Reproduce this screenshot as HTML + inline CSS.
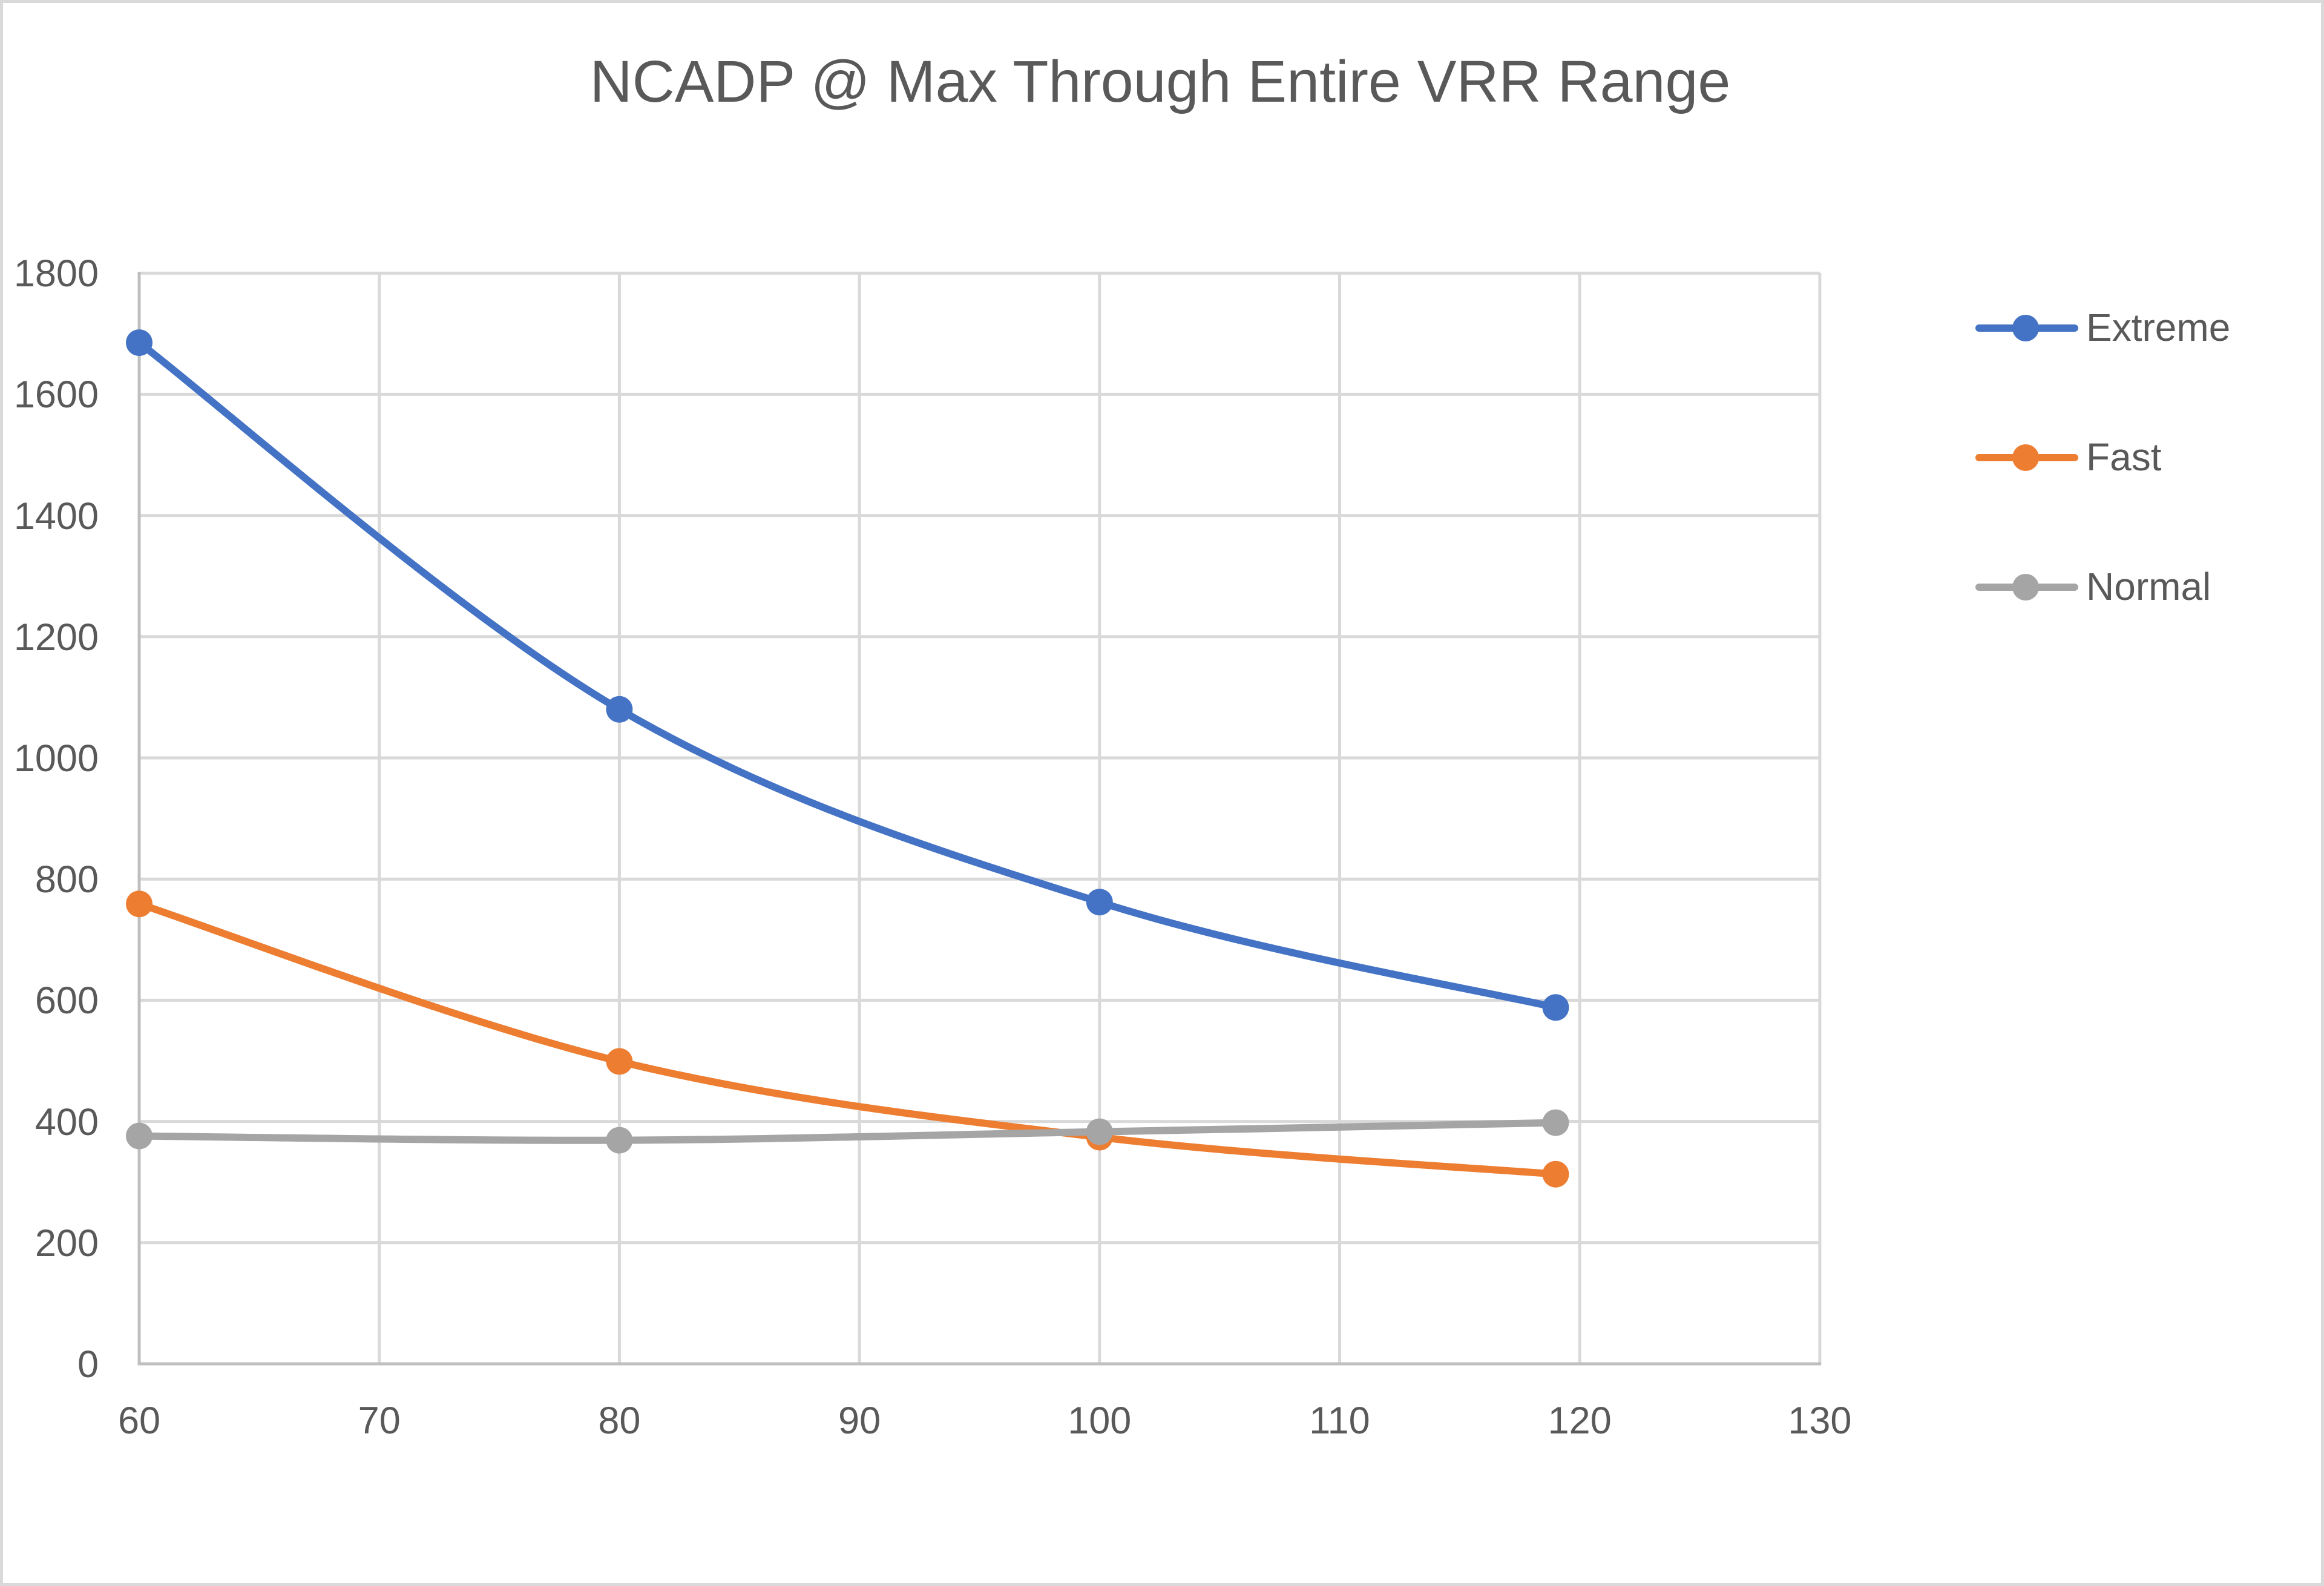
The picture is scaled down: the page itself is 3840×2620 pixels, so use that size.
<!DOCTYPE html>
<html>
<head>
<meta charset="utf-8">
<style>
  html, body { margin:0; padding:0; background:#ffffff; }
  body { width:3840px; height:2620px; overflow:hidden; }
  svg { display:block; }
  text { font-family: "Liberation Sans", "DejaVu Sans", sans-serif; fill:#595959; }
</style>
</head>
<body>
<svg width="3840" height="2620" viewBox="0 0 3840 2620" xmlns="http://www.w3.org/2000/svg">
  <!-- background and outer border -->
  <rect x="0" y="0" width="3840" height="2620" fill="#ffffff"/>
  <rect x="2.5" y="2.5" width="3835" height="2615" fill="none" stroke="#d9d9d9" stroke-width="5"/>

  <!-- title -->
  <text x="1917" y="168" font-size="97" text-anchor="middle">NCADP @ Max Through Entire VRR Range</text>

  <!-- horizontal gridlines -->
  <g stroke="#d9d9d9" stroke-width="5">
    <line x1="230" y1="2052.8" x2="3007" y2="2052.8"/>
    <line x1="230" y1="1852.6" x2="3007" y2="1852.6"/>
    <line x1="230" y1="1652.4" x2="3007" y2="1652.4"/>
    <line x1="230" y1="1452.2" x2="3007" y2="1452.2"/>
    <line x1="230" y1="1252.0" x2="3007" y2="1252.0"/>
    <line x1="230" y1="1051.8" x2="3007" y2="1051.8"/>
    <line x1="230" y1="851.6" x2="3007" y2="851.6"/>
    <line x1="230" y1="651.4" x2="3007" y2="651.4"/>
    <line x1="230" y1="451.2" x2="3007" y2="451.2"/>
    <!-- vertical gridlines -->
    <line x1="626.7" y1="451" x2="626.7" y2="2253"/>
    <line x1="1023.4" y1="451" x2="1023.4" y2="2253"/>
    <line x1="1420.1" y1="451" x2="1420.1" y2="2253"/>
    <line x1="1816.8" y1="451" x2="1816.8" y2="2253"/>
    <line x1="2213.5" y1="451" x2="2213.5" y2="2253"/>
    <line x1="2610.2" y1="451" x2="2610.2" y2="2253"/>
    <line x1="3006.9" y1="451" x2="3006.9" y2="2255"/>
  </g>
  <!-- axes -->
  <g stroke="#bfbfbf" stroke-width="5">
    <line x1="230" y1="449" x2="230" y2="2255.5"/>
    <line x1="227.5" y1="2253" x2="3009" y2="2253"/>
  </g>

  <!-- y labels -->
  <g font-size="63" text-anchor="end">
    <text x="163" y="2275">0</text>
    <text x="163" y="2075">200</text>
    <text x="163" y="1875">400</text>
    <text x="163" y="1674">600</text>
    <text x="163" y="1474">800</text>
    <text x="163" y="1274">1000</text>
    <text x="163" y="1074">1200</text>
    <text x="163" y="874">1400</text>
    <text x="163" y="673">1600</text>
    <text x="163" y="473">1800</text>
  </g>
  <!-- x labels -->
  <g font-size="63" text-anchor="middle">
    <text x="230" y="2368">60</text>
    <text x="626.7" y="2368">70</text>
    <text x="1023.4" y="2368">80</text>
    <text x="1420.1" y="2368">90</text>
    <text x="1816.8" y="2368">100</text>
    <text x="2213.5" y="2368">110</text>
    <text x="2610.2" y="2368">120</text>
    <text x="3006.9" y="2368">130</text>
  </g>

  <!-- Extreme -->
  <path d="M230,566.1 C362.2,667.1 758.9,1017.8 1023.4,1171.8 C1287.9,1325.8 1559.0,1408.1 1816.8,1490.2 C2074.7,1572.3 2444.9,1635.3 2570.5,1664.3"
        fill="none" stroke="#4472C4" stroke-width="12" stroke-linecap="round" stroke-linejoin="round"/>
  <g fill="#4472C4">
    <circle cx="230" cy="566.1" r="22"/>
    <circle cx="1023.4" cy="1171.8" r="22"/>
    <circle cx="1816.8" cy="1490.2" r="22"/>
    <circle cx="2570.5" cy="1664.3" r="22"/>
  </g>

  <!-- Fast -->
  <path d="M230,1493.2 C362.2,1536.6 758.9,1689.2 1023.4,1753.4 C1287.9,1817.6 1559.0,1847.6 1816.8,1878.6 C2074.7,1909.7 2444.9,1929.5 2570.5,1939.7"
        fill="none" stroke="#ED7D31" stroke-width="12" stroke-linecap="round" stroke-linejoin="round"/>
  <g fill="#ED7D31">
    <circle cx="230" cy="1493.2" r="22"/>
    <circle cx="1023.4" cy="1753.4" r="22"/>
    <circle cx="1816.8" cy="1878.6" r="22"/>
    <circle cx="2570.5" cy="1939.7" r="22"/>
  </g>

  <!-- Normal -->
  <path d="M230,1876.6 C362.2,1877.8 758.9,1884.8 1023.4,1883.6 C1287.9,1882.4 1559.0,1874.4 1816.8,1869.6 C2074.7,1864.8 2444.9,1857.1 2570.5,1854.6"
        fill="none" stroke="#A5A5A5" stroke-width="12" stroke-linecap="round" stroke-linejoin="round"/>
  <g fill="#A5A5A5">
    <circle cx="230" cy="1876.6" r="22"/>
    <circle cx="1023.4" cy="1883.6" r="22"/>
    <circle cx="1816.8" cy="1869.6" r="22"/>
    <circle cx="2570.5" cy="1854.6" r="22"/>
  </g>

  <!-- legend -->
  <g stroke-width="12" stroke-linecap="round">
    <line x1="3270" y1="542" x2="3428" y2="542" stroke="#4472C4"/>
    <line x1="3270" y1="756" x2="3428" y2="756" stroke="#ED7D31"/>
    <line x1="3270" y1="970" x2="3428" y2="970" stroke="#A5A5A5"/>
  </g>
  <circle cx="3347" cy="542" r="22" fill="#4472C4"/>
  <circle cx="3347" cy="756" r="22" fill="#ED7D31"/>
  <circle cx="3347" cy="970" r="22" fill="#A5A5A5"/>
  <g font-size="64">
    <text x="3447" y="563">Extreme</text>
    <text x="3447" y="777">Fast</text>
    <text x="3447" y="991">Normal</text>
  </g>
</svg>
</body>
</html>
